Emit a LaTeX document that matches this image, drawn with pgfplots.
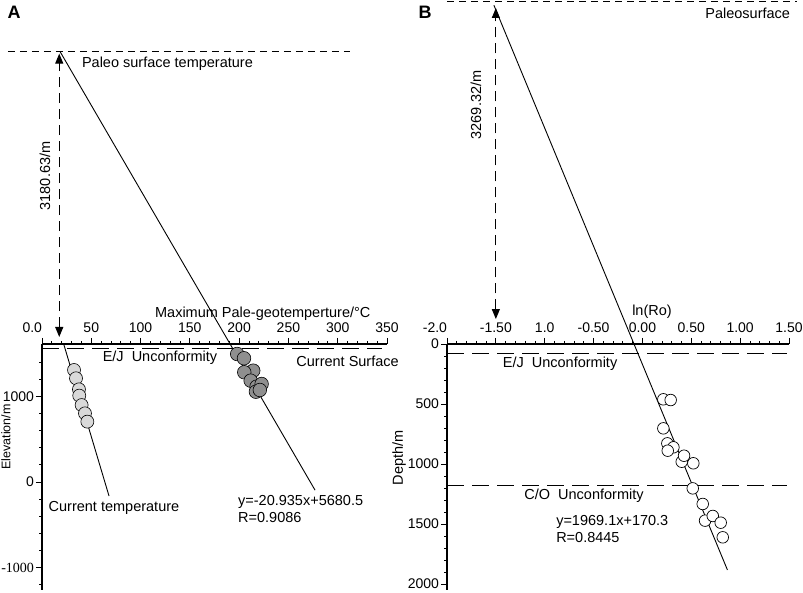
\documentclass[border=0pt]{standalone}
\usepackage{fontspec}
\setmainfont{Liberation Sans}
\newfontfamily\serifnum{Liberation Serif}
\usepackage{pgfplots}
\pgfplotsset{compat=1.18}
\usetikzlibrary{arrows.meta}

\definecolor{ptlight}{HTML}{D9D9D9}
\definecolor{ptdark}{HTML}{8F8F8F}

\pgfplotsset{
  panel/.style={
    scale only axis, clip=false,
    axis x line*=top, axis y line*=left,
    tick align=outside,
    major tick length=6pt, minor tick length=3pt,
    axis line style={line width=1.1pt},
    every tick/.style={black, line width=0.8pt},
    font=\fontsize{14.5}{17}\selectfont,
    every tick label/.append style={font=\fontsize{14}{16}\selectfont},
    yticklabel style={xshift=3pt},
  },
  reg/.style={black, line width=0.9pt, no marks},
  surf/.style={black, line width=1pt, no marks, dash pattern=on 7pt off 5pt},
  unconf/.style={black, line width=1pt, no marks, dash pattern=on 17pt off 8pt},
  thick arrow/.style={black, line width=1pt, no marks, dash pattern=on 10pt off 6pt,
    {Triangle[length=10pt,width=8pt]}-{Triangle[length=10pt,width=8pt]}},
}

\begin{document}
\fontsize{14.5}{17}\selectfont
\begin{tikzpicture}[x=1pt,y=1pt]
\path[use as bounding box] (0,0) rectangle (803,593);

\node[font=\fontsize{18}{20}\selectfont\bfseries] at (14,581) {A};
\node[font=\fontsize{18}{20}\selectfont\bfseries] at (425,581) {B};

% ---------------- panel A ----------------
\begin{axis}[panel,
  at={(42pt,3pt)}, anchor=south west,
  width=345pt, height=246pt,
  xmin=0, xmax=350, ymin=-1263, ymax=1614,
  xtick={0,50,100,150,200,250,300,350},
  xticklabels={\hbox to 0pt{\hss0.0},50,100,150,200,250,300,350},
  minor xtick={10,20,...,340},
  ytick={-1000,0,1000},
  yticklabels={{\serifnum -1000},0,1000},
  minor ytick={-1200,-800,-600,-400,-200,200,400,600,800,1200,1400},
]
% paleo surface and unconformity
\addplot[surf] coordinates {(-34.5,5030) (312,5030)};
\addplot[unconf] coordinates {(0,1567) (345,1567)};
\addplot[thick arrow] coordinates {(17.5,1696) (17.5,5010)};
% trend lines
\addplot[reg] coordinates {(18.5,5030) (277,-95)};
\addplot[reg] coordinates {(22.3,1602) (68,-164)};
% current temperature
\addplot[only marks, mark=*, mark size=6.5pt,
  mark options={fill=ptlight, draw=black, line width=0.6pt}] coordinates {
  (32.5,1310) (34.5,1213) (37.5,1084) (37.8,1010) (40.2,900) (43.6,803) (46,706)};
% maximum paleo temperature
\addplot[only marks, mark=*, mark size=6.8pt,
  mark options={fill=ptdark, draw=black, line width=0.6pt}] coordinates {
  (198,1497) (204.9,1447) (214.3,1302) (205.2,1283) (211.7,1185) (217.7,1115)
  (222.8,1146) (217,1056) (221,1076)};

\node at (224,1965) {Maximum Pale-geotemperture/°C};
\node at (119.7,1450) {E/J~~Unconformity};
\node at (310,1415) {Current Surface};
\node[rotate=90] at (3,3579) {3180.63/m};
\node[anchor=west] at (35.5,4889) {Paleo surface temperature};
\node[rotate=90, font=\fontsize{12.5}{15}\selectfont] at (-36.5,526) {Elevation/m};
\node at (73,-304) {Current temperature};
\node[anchor=north west, align=left, inner sep=0pt] at (198.8,-150)
  {y=-20.935x+5680.5\\R=0.9086};
\end{axis}

% ---------------- panel B ----------------
\begin{axis}[panel,
  at={(447pt,3pt)}, anchor=south west,
  width=342pt, height=246pt,
  xmin=-2, xmax=1.5, ymin=0, ymax=2050, y dir=reverse,
  xtick={-2,-1.5,-1,-0.5,0,0.5,1,1.5},
  xticklabels={\hbox to 0pt{\hss-2.0},-1.50,1.0,-0.50,0.00,0.50,1.00,1.50},
  minor xtick={-1.9,-1.8,-1.7,-1.6,-1.4,-1.3,-1.2,-1.1,-0.9,-0.8,-0.7,-0.6,
    -0.4,-0.3,-0.2,-0.1,0.1,0.2,0.3,0.4,0.6,0.7,0.8,0.9,1.1,1.2,1.3,1.4},
  ytick={0,500,1000,1500,2000},
  yticklabels={0,500,1000,1500,2000},
  minor ytick={100,200,300,400,600,700,800,900,1100,1200,1300,1400,1600,1700,1800,1900},
]
\addplot[surf] coordinates {(-2,-2850) (1.58,-2850)};
\addplot[unconf] coordinates {(-2,83) (1.48,83)};
\addplot[unconf] coordinates {(-2,1175) (1.48,1175)};
\addplot[thick arrow] coordinates {(-1.5,-208) (-1.5,-2800)};
\addplot[reg] coordinates {(-1.52,-2823) (0.87,1883)};
\addplot[only marks, mark=*, mark size=5.8pt,
  mark options={fill=white, draw=black, line width=0.7pt}] coordinates {
  (0.214,461) (0.289,467) (0.214,703) (0.255,828) (0.317,861) (0.259,889)
  (0.402,981) (0.426,931) (0.521,994) (0.515,1203) (0.617,1333) (0.641,1472)
  (0.720,1433) (0.801,1489) (0.822,1611)};

\node at (0.098,-267) {ln(Ro)};
\node[anchor=east] at (1.562,-2758) {Paleosurface};
\node[rotate=90] at (-1.703,-1992) {3269.32/m};
\node at (-0.843,167) {E/J~~Unconformity};
\node at (-0.598,1267) {C/O~~Unconformity};
\node[anchor=north west, align=left, inner sep=0pt] at (-0.884,1425)
  {y=1969.1x+170.3\\R=0.8445};
\node[rotate=90] at (-2.491,950) {Depth/m};
\end{axis}
\end{tikzpicture}
\end{document}
